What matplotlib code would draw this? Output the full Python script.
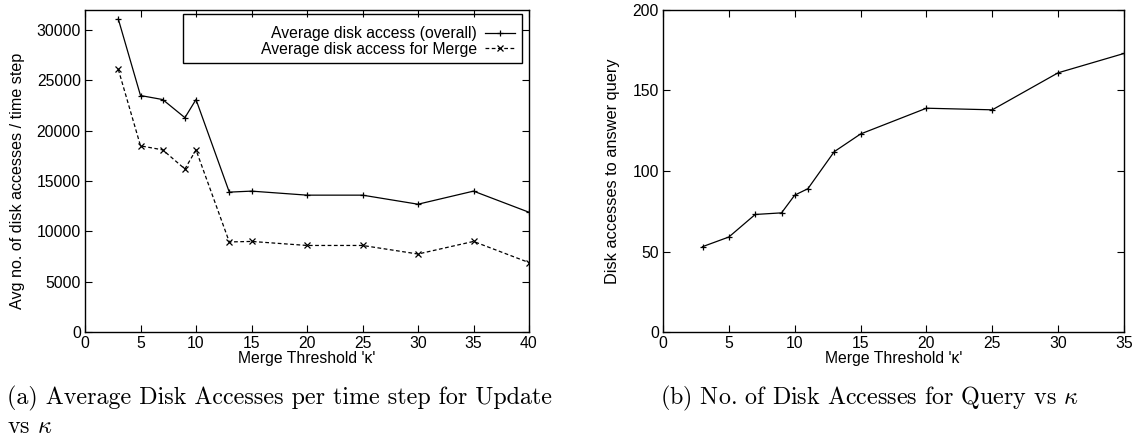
import matplotlib
matplotlib.use("Agg")
import matplotlib.pyplot as plt
from matplotlib.patches import Rectangle

# ---- data ----
kappa_update = [3, 5, 7, 9, 10, 13, 15, 20, 25, 30, 35, 40]
overall_access = [31100, 23500, 23100, 21300, 23100, 13900, 14000, 13600, 13600, 12700, 14000, 11900]
merge_access = [26100, 18500, 18100, 16200, 18100, 8950, 9000, 8600, 8600, 7750, 9000, 6900]

kappa_query = [3, 5, 7, 9, 10, 11, 13, 15, 20, 25, 30, 35]
query_access = [53, 59, 73, 74, 85, 89, 112, 123, 139, 138, 161, 173]

left_xticks = [0, 5, 10, 15, 20, 25, 30, 35, 40]
left_yticks = [0, 5000, 10000, 15000, 20000, 25000, 30000]
right_xticks = [0, 5, 10, 15, 20, 25, 30, 35]
right_yticks = [0, 50, 100, 150, 200]

plt.rcParams['font.family'] = ['Liberation Sans', 'DejaVu Sans']
plt.rcParams['mathtext.fontset'] = 'cm'
FS = 11.3

W, H = 1141, 440
fig = plt.figure(figsize=(W / 100, H / 100), dpi=100)

def px_axes(x0, y0, x1, y1):
    return [x0 / W, 1 - y1 / H, (x1 - x0) / W, (y1 - y0) / H]

ax1 = fig.add_axes(px_axes(85, 10, 529, 332))
ax2 = fig.add_axes(px_axes(663, 10, 1124, 332))

def style(ax):
    ax.tick_params(direction='in', top=True, right=True, length=5, width=0.8,
                   labelsize=FS, pad=3, colors='black')
    for s in ax.spines.values():
        s.set_linewidth(1.0)

# ---- left plot ----
ax1.plot(kappa_update, overall_access, color='black', lw=0.9, marker='+', ms=5,
         mew=0.9, label='Average disk access (overall)')
ax1.plot(kappa_update, merge_access, color='black', lw=0.9, ls=(0, (3, 2)),
         marker='x', ms=4, mew=0.9, label='Average disk access for Merge')
ax1.set_xlim(0, 40)
ax1.set_ylim(0, 32000)
ax1.set_xticks(left_xticks)
ax1.set_yticks(left_yticks)
style(ax1)
ax1.set_xlabel("Merge Threshold '\u03ba'", fontsize=FS)
ax1.xaxis.set_label_coords(0.5, -0.06)
ax1.set_ylabel("Avg no. of disk accesses / time step", fontsize=FS + 0.3)
ax1.yaxis.set_label_coords(-0.152, 0.47)
ax1.yaxis.label.set_va('center')

# legend frame (decoration) + legend entries
ax1.add_patch(Rectangle((0.2207, 0.835), 0.7633, 0.1525, transform=ax1.transAxes,
                        fill=False, lw=1.0, ec='black', zorder=5))
leg = ax1.legend(loc='upper right', bbox_to_anchor=(0.969, 0.95), frameon=False,
                 markerfirst=False, fontsize=FS, handlelength=1.9,
                 handletextpad=0.55, borderpad=0, borderaxespad=0, labelspacing=0.05)
for col in leg._legend_handle_box.get_children():
    col.align = 'right'

# ---- right plot ----
ax2.plot(kappa_query, query_access, color='black', lw=0.9, marker='+', ms=5, mew=0.9)
ax2.set_xlim(0, 35)
ax2.set_ylim(0, 200)
ax2.set_xticks(right_xticks)
ax2.set_yticks(right_yticks)
style(ax2)
ax2.set_xlabel("Merge Threshold '\u03ba'", fontsize=FS)
ax2.xaxis.set_label_coords(0.5, -0.06)
ax2.set_ylabel("Disk accesses to answer query", fontsize=FS + 0.5)
ax2.yaxis.set_label_coords(-0.11, 0.5)
ax2.yaxis.label.set_va('center')

# ---- captions ----
CFS = 17.3
fig.text(7 / W, 1 - 404 / H, "(a) Average Disk Accesses per time step for Update",
         family='cmr10', fontsize=CFS, ha='left', va='baseline')
fig.text(7 / W, 1 - 433 / H, r"vs $\kappa$",
         family='cmr10', fontsize=CFS, ha='left', va='baseline')
fig.text(660 / W, 1 - 404 / H, r"(b) No. of Disk Accesses for Query vs $\kappa$",
         family='cmr10', fontsize=CFS, ha='left', va='baseline')

fig.savefig('out.png', dpi=100)
